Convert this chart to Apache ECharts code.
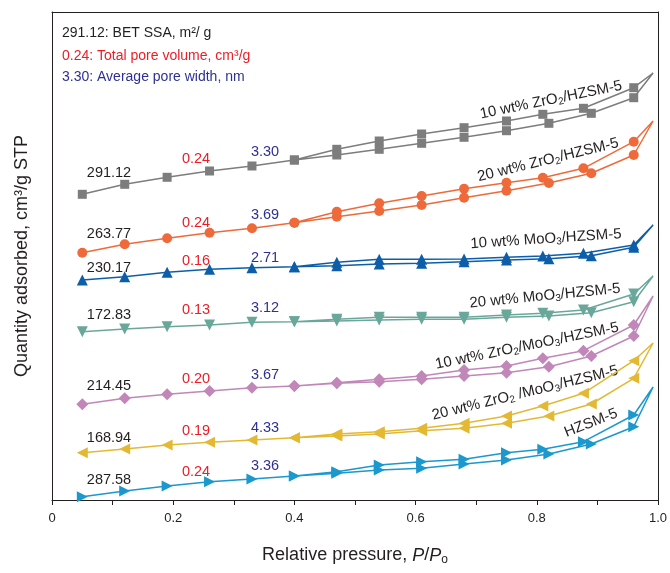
<!DOCTYPE html>
<html>
<head>
<meta charset="utf-8">
<script src="https://cdn.jsdelivr.net/npm/echarts@6/dist/echarts.min.js"></script>
<style>
  html, body { margin: 0; padding: 0; background: #fff; }
  #chart { width: 670px; height: 573px; }
</style>
</head>
<body>
<div id="chart"></div>
<script>
// relative pressure of the measured points
const pressureAds = [0.05, 0.12, 0.19, 0.26, 0.33, 0.40, 0.47, 0.54, 0.61, 0.68, 0.75, 0.82, 0.89, 0.96, 0.992]
const pressureDes = [0.96, 0.877, 0.81, 0.75, 0.68, 0.61, 0.54, 0.47, 0.40]

// quantity adsorbed (offset curves, arbitrary units)
const zr10Ads = [305.7, 315.7, 322.7, 329, 334, 340, 345, 350.7, 356.7, 362.7, 369.3, 376.7, 386.7, 402.3, 427]
const zr10Des = [412.3, 391.7, 385.7, 379, 372.3, 366, 359, 350.7, 340]
const zr20Ads = [247.3, 255.7, 261.7, 267.3, 271.7, 277.3, 283.3, 289, 295, 302.3, 309.3, 317, 326.7, 345, 379]
const zr20Des = [358.3, 331.7, 322.3, 317.3, 311.3, 304, 296.7, 288.3, 277.3]
const mo10Ads = [220, 223.3, 227.7, 230.7, 232.3, 233.3, 234.3, 236, 236.7, 238.3, 240, 241.3, 244.3, 252.7, 275]
const mo10Des = [255, 246.7, 244, 242.7, 241, 240.7, 240.7, 237.7, 233.3]
const mo20Ads = [168.3, 171, 173.3, 175, 177.7, 178.3, 179, 180, 180.7, 180.7, 182.7, 184, 187.3, 198.3, 224]
const mo20Des = [206, 190, 186.7, 185, 182.7, 182.7, 182.7, 180.7, 178.3]
const zrmo10Ads = [95.7, 101.7, 105.7, 109, 112.3, 114, 116.7, 118.3, 120.7, 124, 127.3, 133.3, 144, 164, 204]
const zrmo10Des = [175, 149.3, 141.7, 134, 130, 124, 120.7, 117.3, 114]
const zrmo20Ads = [47.3, 51, 55, 57.7, 60, 62.3, 64, 66, 69.3, 71.7, 76.7, 84, 96, 121.7, 157]
const zrmo20Des = [139.3, 106.7, 94, 84, 76.7, 71.7, 68.3, 66, 62.3]
const hzAds = [3.3, 9, 14, 18.3, 21, 24, 26.7, 30, 31.7, 36, 40, 46, 56, 73.3, 113]
const hzDes = [85, 58.3, 50.7, 47.3, 40.7, 38.3, 35, 28.3, 24]

const sampleNames = ['10 wt% ZrO{s|2}/HZSM-5', '20 wt% ZrO{s|2}/HZSM-5', '10 wt% MoO{s|3}/HZSM-5',
  '20 wt% MoO{s|3}/HZSM-5', '10 wt% ZrO{s|2}/MoO{s|3}/HZSM-5', '20 wt% ZrO{s|2} /MoO{s|3}/HZSM-5', 'HZSM-5']
const betArea = ['291.12', '263.77', '230.17', '172.83', '214.45', '168.94', '287.58']
const poreVolume = ['0.24', '0.24', '0.16', '0.13', '0.20', '0.19', '0.24']
const poreWidth = ['3.30', '3.69', '2.71', '3.12', '3.67', '4.33', '3.36']

const xTicks = [0, 0.2, 0.4, 0.6, 0.8, 1.0]

const colors = ['#7d7d7d', '#ee6a3b', '#0d5ea9', '#6aa79b', '#c087b8', '#e3b934', '#1b98cd']
const markers = [
  { symbol: 'rect', size: 9, rotate: 0 },
  { symbol: 'circle', size: 10, rotate: 0 },
  { symbol: 'triangle', size: 11, rotate: 0 },
  { symbol: 'triangle', size: 11, rotate: 180 },
  { symbol: 'diamond', size: 12, rotate: 0 },
  { symbol: 'triangle', size: 11, rotate: 90 },
  { symbol: 'triangle', size: 11, rotate: -90 }
]

const curves = [
  [zr10Ads, zr10Des], [zr20Ads, zr20Des], [mo10Ads, mo10Des], [mo20Ads, mo20Des],
  [zrmo10Ads, zrmo10Des], [zrmo20Ads, zrmo20Des], [hzAds, hzDes]
]

// adsorption branch followed by desorption branch, as one path
const buildLoop = (ads, des) => {
  const pts = ads.map((v, i) => pressureAds[i] > 0.98
    ? { value: [pressureAds[i], v], symbol: 'none' }
    : [pressureAds[i], v])
  des.forEach((v, i) => pts.push([pressureDes[i], v]))
  return pts
}

const chart = echarts.init(document.getElementById('chart'))

const series = curves.map((c, i) => ({
  name: sampleNames[i],
  type: 'line',
  data: buildLoop(c[0], c[1]),
  symbol: markers[i].symbol,
  symbolSize: markers[i].size,
  symbolRotate: markers[i].rotate,
  showAllSymbol: true,
  lineStyle: { color: colors[i], width: 1.5 },
  itemStyle: { color: colors[i] },
  silent: true,
  animation: false
}))

// text placement (pixels)
const labelRows = [173, 234, 268, 315, 386, 438, 480]
const labelRowShift = [[0, -14, -21], [0, -11, -19], [0, -7, -10], [0, -5, -7], [0, -7, -11], [0, -7, -10], [0, -8, -14]]
const labelCols = [109, 196, 265]
const nameSpots = [
  [551, 100, 11.5], [548, 160, 13.7], [546, 239, 3.8], [545, 296, 5.6],
  [527, 346, 11.6], [525, 393, 13.7], [591, 423, 21.5]
]

const txtFont = 'Liberation Sans, Arial, sans-serif'
const graphics = []

const addText = (text, x, y, color, opts = {}) => {
  graphics.push({
    type: 'text',
    x, y,
    rotation: opts.rotation || 0,
    silent: true,
    style: {
      text,
      fill: color,
      font: (opts.size || 14.5) + 'px ' + txtFont,
      textAlign: opts.align || 'center',
      textVerticalAlign: 'middle',
      rich: opts.rich
    }
  })
}

addText('291.12: BET SSA, m²/ g', 62, 33, '#231f20', { align: 'left', size: 14 })
addText('0.24: Total pore volume, cm³/g', 62, 56, '#ee1c25', { align: 'left', size: 14 })
addText('3.30: Average pore width, nm', 62, 77, '#2e3192', { align: 'left', size: 14 })

betArea.forEach((t, i) => {
  const y = labelRows[i]
  addText(t, labelCols[0], y + labelRowShift[i][0], '#231f20')
  addText(poreVolume[i], labelCols[1], y + labelRowShift[i][1], '#ee1c25')
  addText(poreWidth[i], labelCols[2], y + labelRowShift[i][2], '#2e3192')
})

const subRich = {
  s: { fontSize: 10, fontFamily: txtFont, fill: '#231f20', padding: [7, 0, 0, 0] }
}
sampleNames.forEach((n, i) => {
  const p = nameSpots[i]
  graphics.push({
    type: 'text',
    x: p[0], y: p[1],
    rotation: p[2] * Math.PI / 180,
    silent: true,
    style: {
      text: n,
      fill: '#231f20',
      fontSize: 15,
      fontFamily: txtFont,
      align: 'center',
      verticalAlign: 'middle',
      rich: subRich
    }
  })
})

const frameLine = { show: true, onZero: false, lineStyle: { color: '#231f20', width: 1 } }

chart.setOption({
  animation: false,
  grid: { left: 52, top: 12, right: 11, bottom: 73 },
  xAxis: [{
    type: 'value',
    min: 0,
    max: 1,
    interval: 0.2,
    name: 'Relative pressure, {i|P}/{i|P}{o|o}',
    nameLocation: 'middle',
    nameGap: 45,
    nameTextStyle: {
      fontSize: 18,
      fontFamily: txtFont,
      color: '#231f20',
      rich: {
        i: { fontSize: 18, fontStyle: 'italic', fontFamily: txtFont, color: '#231f20' },
        o: { fontSize: 12, fontFamily: txtFont, color: '#231f20', padding: [9, 0, 0, 0] }
      }
    },
    axisLine: frameLine,
    axisTick: { show: true, length: 5, lineStyle: { color: '#231f20' } },
    minorTick: { show: true, splitNumber: 2, length: 5, lineStyle: { color: '#231f20' } },
    splitLine: { show: false },
    axisLabel: {
      fontSize: 13,
      fontFamily: txtFont,
      color: '#231f20',
      margin: 12,
      formatter: (v) => {
        const hit = xTicks.find(t => Math.abs(t - v) < 1e-6)
        if (hit === undefined) return ''
        return hit === 0 ? '0' : hit.toFixed(1)
      }
    }
  }, {
    type: 'value',
    position: 'top',
    min: 0,
    max: 1,
    axisLine: frameLine,
    axisTick: { show: false },
    axisLabel: { show: false },
    splitLine: { show: false }
  }],
  yAxis: [{
    type: 'value',
    min: 0,
    max: 488,
    name: 'Quantity adsorbed, cm³/g STP',
    nameLocation: 'middle',
    nameGap: 21,
    nameTextStyle: { fontSize: 18, fontFamily: txtFont, color: '#231f20' },
    axisLine: frameLine,
    axisTick: { show: false },
    axisLabel: { show: false },
    splitLine: { show: false }
  }, {
    type: 'value',
    position: 'right',
    min: 0,
    max: 488,
    axisLine: frameLine,
    axisTick: { show: false },
    axisLabel: { show: false },
    splitLine: { show: false }
  }],
  series,
  graphic: graphics
})
</script>
</body>
</html>
